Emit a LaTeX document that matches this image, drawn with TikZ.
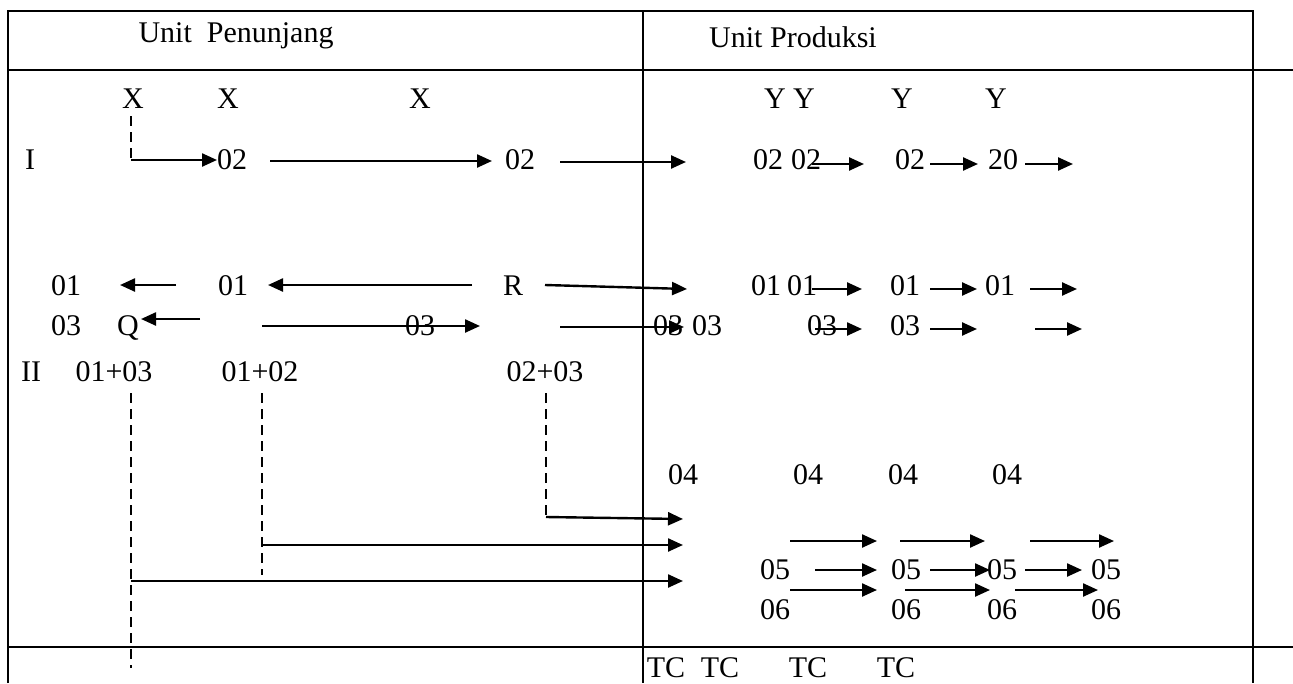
\documentclass[tikz,border=0pt]{standalone}
\usepackage{fontspec}
\setmainfont{Liberation Serif}
\usetikzlibrary{arrows.meta}
\begin{document}
\begin{tikzpicture}[x=1pt,y=-1pt,
  lbl/.style={inner sep=0pt, font=\fontsize{30}{35}\selectfont},
  arr/.style={-{Triangle[length=15pt,width=13pt]}, line width=2.4pt},
  dsh/.style={line width=2pt, dash pattern=on 10pt off 6pt},
  frm/.style={line width=2pt}]
\path[use as bounding box] (0,0) rectangle (1293,683);
% frame
\coordinate (fbl) at (8,683); \coordinate (ftl) at (8,11);
\coordinate (ftr) at (1253,11); \coordinate (fbr) at (1253,683);
\coordinate (mt) at (643,11); \coordinate (mb) at (643,683);
\coordinate (hl) at (8,70); \coordinate (hr) at (1293,70);
\coordinate (bl) at (8,647); \coordinate (br) at (1293,647);
\draw[frm] (fbl) -- (ftl) -- (ftr) -- (fbr);
\draw[frm] (mt) -- (mb);
\draw[frm] (hl) -- (hr);
\draw[frm] (bl) -- (br);
% header
\node[lbl] (hpen) at (236,36) {Unit\ \ Penunjang};
\node[lbl] (hprod) at (793,37) {Unit Produksi};
% X / Y
\node[lbl] (x1) at (133,99) {X};
\node[lbl] (x2) at (228,99) {X};
\node[lbl] (x3) at (420,99) {X};
\node[lbl] (y1) at (775,99) {Y};
\node[lbl] (y2) at (804,99) {Y};
\node[lbl] (y3) at (902,99) {Y};
\node[lbl] (y4) at (996,99) {Y};
% row I
\node[lbl] (rI) at (30,160) {I};
\node[lbl] (a1) at (232,160) {02};
\node[lbl] (a2) at (520,160) {02};
\node[lbl] (a3) at (768,160) {02};
\node[lbl] (a4) at (806,160) {02};
\node[lbl] (a5) at (910,160) {02};
\node[lbl] (a6) at (1003,160) {20};
\coordinate (xt) at (131,116);
\coordinate (xc) at (131,160);
\coordinate (xe) at (217,160);
\draw[dsh] (xt) -- (xc);
\draw[arr] (xc) -- (xe);
\coordinate (ia1) at (270,161); \coordinate (ia2) at (492,161);
\coordinate (ib1) at (560,162); \coordinate (ib2) at (686,162);
\coordinate (ic1) at (812,164); \coordinate (ic2) at (864,164);
\coordinate (id1) at (930,164); \coordinate (id2) at (978,164);
\coordinate (ie1) at (1025,164); \coordinate (ie2) at (1073,164);
\draw[arr] (ia1) -- (ia2);
\draw[arr] (ib1) -- (ib2);
\draw[arr] (ic1) -- (ic2);
\draw[arr] (id1) -- (id2);
\draw[arr] (ie1) -- (ie2);
% row 01
\node[lbl] (b1) at (66,286) {01};
\node[lbl] (b2) at (233,286) {01};
\node[lbl] (bR) at (513,286) {R};
\node[lbl] (b3) at (766,286) {01};
\node[lbl] (b4) at (802,286) {01};
\node[lbl] (b5) at (905,286) {01};
\node[lbl] (b6) at (1000,286) {01};
\coordinate (ba1) at (176,285); \coordinate (ba2) at (120,285);
\coordinate (bb1) at (472,285); \coordinate (bb2) at (268,285);
\coordinate (bc1) at (545,285); \coordinate (bc2) at (687,289);
\coordinate (bd1) at (812,289); \coordinate (bd2) at (862,289);
\coordinate (be1) at (930,289); \coordinate (be2) at (977,289);
\coordinate (bf1) at (1030,289); \coordinate (bf2) at (1077,289);
\draw[arr] (ba1) -- (ba2);
\draw[arr] (bb1) -- (bb2);
\draw[arr] (bc1) -- (bc2);
\draw[arr] (bd1) -- (bd2);
\draw[arr] (be1) -- (be2);
\draw[arr] (bf1) -- (bf2);
% row 03
\node[lbl] (c1) at (66,326) {03};
\node[lbl] (cQ) at (128,328) {Q};
\node[lbl] (c2) at (420,326) {03};
\node[lbl] (c3) at (668,326) {03};
\node[lbl] (c4) at (707,326) {03};
\node[lbl] (c5) at (822,326) {03};
\node[lbl] (c6) at (905,326) {03};
\coordinate (ca1) at (200,319); \coordinate (ca2) at (141,319);
\coordinate (cb1) at (262,326); \coordinate (cb2) at (480,326);
\coordinate (cc1) at (560,327); \coordinate (cc2) at (684,327);
\coordinate (cd1) at (815,329); \coordinate (cd2) at (862,329);
\coordinate (ce1) at (930,329); \coordinate (ce2) at (977,329);
\coordinate (cf1) at (1035,329); \coordinate (cf2) at (1082,329);
\draw[arr] (ca1) -- (ca2);
\draw[arr] (cb1) -- (cb2);
\draw[arr] (cc1) -- (cc2);
\draw[arr] (cd1) -- (cd2);
\draw[arr] (ce1) -- (ce2);
\draw[arr] (cf1) -- (cf2);
% row II
\node[lbl] (rII) at (31,372) {II};
\node[lbl] (s13) at (114,372) {01+03};
\node[lbl] (s12) at (260,372) {01+02};
\node[lbl] (s23) at (545,372) {02+03};
\coordinate (d1t) at (131,393); \coordinate (d1b) at (131,668);
\coordinate (d2t) at (262,393); \coordinate (d2b) at (262,575);
\coordinate (d3t) at (546,393); \coordinate (d3b) at (546,517);
\draw[dsh] (d1t) -- (d1b);
\draw[dsh] (d2t) -- (d2b);
\draw[dsh] (d3t) -- (d3b);
\coordinate (k3) at (546,517); \coordinate (k3e) at (683,519);
\coordinate (k2) at (262,545); \coordinate (k2e) at (683,545);
\coordinate (k1) at (131,581); \coordinate (k1e) at (683,581);
\draw[arr] (k3) -- (k3e);
\draw[arr] (k2) -- (k2e);
\draw[arr] (k1) -- (k1e);
% 04
\node[lbl] (e1) at (683,475) {04};
\node[lbl] (e2) at (808,475) {04};
\node[lbl] (e3) at (903,475) {04};
\node[lbl] (e4) at (1007,475) {04};
% 05
\node[lbl] (f1) at (775,570) {05};
\node[lbl] (f2) at (906,570) {05};
\node[lbl] (f3) at (1002,570) {05};
\node[lbl] (f4) at (1106,570) {05};
\coordinate (fa1) at (790,541); \coordinate (fa2) at (877,541);
\coordinate (fb1) at (900,541); \coordinate (fb2) at (985,541);
\coordinate (fc1) at (1030,541); \coordinate (fc2) at (1114,541);
\coordinate (fd1) at (815,570); \coordinate (fd2) at (877,570);
\coordinate (fe1) at (930,570); \coordinate (fe2) at (990,570);
\coordinate (ff1) at (1025,570); \coordinate (ff2) at (1082,570);
\foreach \p in {fa,fb,fc,fd,fe,ff} {\draw[arr] (\p1) -- (\p2);}
% 06
\node[lbl] (g1) at (775,610) {06};
\node[lbl] (g2) at (906,610) {06};
\node[lbl] (g3) at (1002,610) {06};
\node[lbl] (g4) at (1106,610) {06};
\coordinate (ga1) at (790,590); \coordinate (ga2) at (877,590);
\coordinate (gb1) at (905,590); \coordinate (gb2) at (990,590);
\coordinate (gc1) at (1015,590); \coordinate (gc2) at (1098,590);
\foreach \p in {ga,gb,gc} {\draw[arr] (\p1) -- (\p2);}
% TC
\node[lbl] (t1) at (666,668) {TC};
\node[lbl] (t2) at (720,668) {TC};
\node[lbl] (t3) at (808,668) {TC};
\node[lbl] (t4) at (896,668) {TC};
\end{tikzpicture}
\end{document}
